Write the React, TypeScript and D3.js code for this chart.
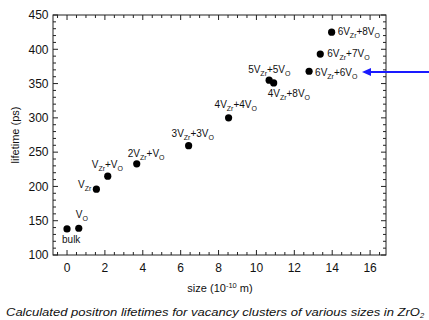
import React from "react";
import * as d3 from "d3";

// cluster sizes (10^-10 m) and calculated lifetimes (ps)
const sizes = [0, 0.62, 1.55, 2.15, 3.68, 6.42, 8.53, 10.67, 10.91, 12.78, 13.37, 13.97];
const lifetimes = [138, 139, 196, 215, 233, 259.5, 300, 355, 351, 368, 393, 425];
// label parts: [prefix, sub, middle, sub2]
const labels: [string, string, string, string][] = [
  ["bulk", "", "", ""],
  ["V", "O", "", ""],
  ["V", "Zr", "", ""],
  ["V", "Zr", "+V", "O"],
  ["2V", "Zr", "+V", "O"],
  ["3V", "Zr", "+3V", "O"],
  ["4V", "Zr", "+4V", "O"],
  ["5V", "Zr", "+5V", "O"],
  ["4V", "Zr", "+8V", "O"],
  ["6V", "Zr", "+6V", "O"],
  ["6V", "Zr", "+7V", "O"],
  ["6V", "Zr", "+8V", "O"],
];
const xTicks = [0, 2, 4, 6, 8, 10, 12, 14, 16];
const yTicks = [100, 150, 200, 250, 300, 350, 400, 450];
const arrowLifetime = 367;

// label placement relative to each point (layout only)
const labelOffsets: [number, number, string][] = [
  [-5, 14, "start"],
  [-3, -10, "start"],
  [-5, -1, "end"],
  [-16, -8, "start"],
  [-9, -7, "start"],
  [-17, -9, "start"],
  [-14, -10, "start"],
  [-21, -7, "start"],
  [-6, 14, "start"],
  [6, 5, "start"],
  [7, 3, "start"],
  [6, 3, "start"],
];

const W = 429;
const H = 320;
const left = 53;
const right = 386;
const top = 15;
const bottom = 255;

const font = "'Liberation Sans', Arial, sans-serif";

export default function App() {
  const x = d3.scaleLinear().domain([-0.74, 16.84]).range([left, right]);
  const y = d3.scaleLinear().domain([100, 450]).range([bottom, top]);

  const xMinor = d3.range(-0.5, 16.9, 0.5).filter((v) => !xTicks.includes(v));
  const yMinor = d3.range(100, 451, 10).filter((v) => !yTicks.includes(v));

  const ink = "#222";
  const ay = y(arrowLifetime);

  return (
    <svg width={W} height={H} style={{ position: "absolute", left: 0, top: 0 }} fontFamily={font}>
      <rect x={0} y={0} width={W} height={H} fill="#fff" />
      <rect x={left} y={top} width={right - left} height={bottom - top} fill="none" stroke={ink} strokeWidth={1} />
      {xTicks.map((t) => (
        <g key={`xt${t}`}>
          <line x1={x(t)} x2={x(t)} y1={bottom} y2={bottom - 5} stroke={ink} />
          <line x1={x(t)} x2={x(t)} y1={top} y2={top + 5} stroke={ink} />
          <text x={x(t)} y={272} fontSize={12} textAnchor="middle" fill="#111">{t}</text>
        </g>
      ))}
      {xMinor.map((t) => (
        <g key={`xm${t}`}>
          <line x1={x(t)} x2={x(t)} y1={bottom} y2={bottom - 3} stroke={ink} />
          <line x1={x(t)} x2={x(t)} y1={top} y2={top + 3} stroke={ink} />
        </g>
      ))}
      {yTicks.map((t) => (
        <g key={`yt${t}`}>
          <line x1={left} x2={left + 5} y1={y(t)} y2={y(t)} stroke={ink} />
          <line x1={right} x2={right - 5} y1={y(t)} y2={y(t)} stroke={ink} />
          <text x={48.5} y={y(t) + 4.3} fontSize={12} textAnchor="end" fill="#111">{t}</text>
        </g>
      ))}
      {yMinor.map((t) => (
        <g key={`ym${t}`}>
          <line x1={left} x2={left + 3} y1={y(t)} y2={y(t)} stroke={ink} />
          <line x1={right} x2={right - 3} y1={y(t)} y2={y(t)} stroke={ink} />
        </g>
      ))}
      <text x={220} y={292} fontSize={11} textAnchor="middle" fill="#111">
        size (10<tspan dy={-4} fontSize={7.5}>-10</tspan><tspan dy={4}> m)</tspan>
      </text>
      <text transform={`translate(18.5,${(top + bottom) / 2}) rotate(-90)`} fontSize={11} textAnchor="middle" fill="#111">
        lifetime (ps)
      </text>
      {sizes.map((s, i) => (
        <circle key={`p${i}`} cx={x(s)} cy={y(lifetimes[i])} r={3.6} fill="#000" />
      ))}
      {labels.map((l, i) => {
        const [dx, dy, anchor] = labelOffsets[i];
        return (
          <text key={`l${i}`} x={x(sizes[i]) + dx} y={y(lifetimes[i]) + dy} fontSize={10} textAnchor={anchor} fill="#111">
            {l[0]}
            {l[1] && <tspan dy={3} fontSize={7}>{l[1]}</tspan>}
            {l[2] && <tspan dy={-3}>{l[2]}</tspan>}
            {l[3] && <tspan dy={3} fontSize={7}>{l[3]}</tspan>}
          </text>
        );
      })}
      <line x1={429} x2={369} y1={ay} y2={ay} stroke="#1a1aff" strokeWidth={2} />
      <path d={`M362,${ay} L371,${ay - 4} L371,${ay + 4} Z`} fill="#1a1aff" />
      <text x={6} y={316} fontSize={11.5} fontStyle="italic" fill="#111">
        <tspan textLength={414} lengthAdjust="spacingAndGlyphs">
          Calculated positron lifetimes for vacancy clusters of various sizes in ZrO
        </tspan>
        <tspan dy={2} fontSize={7.5}>2</tspan>
      </text>
    </svg>
  );
}
